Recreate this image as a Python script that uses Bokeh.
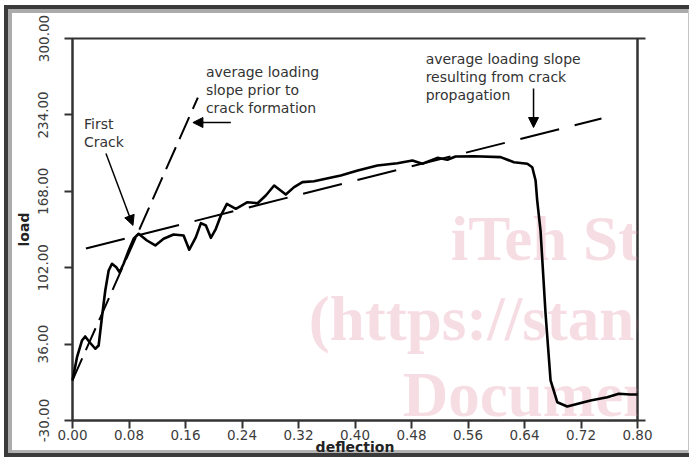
from bokeh.plotting import figure
from bokeh.models import (Label, Arrow, NormalHead, FixedTicker, PrintfTickFormatter,
                          LinearAxis, Range1d)
from bokeh.embed import file_html
from bokeh.resources import INLINE

# ---- data ----
deflection = [0.0, 0.0064, 0.0134, 0.018, 0.0243, 0.0323, 0.037, 0.0417, 0.0464, 0.0512,
              0.0559, 0.062, 0.0667, 0.0724, 0.0795, 0.0866, 0.0936, 0.1054, 0.1172, 0.129,
              0.1431, 0.1573, 0.1653, 0.1747, 0.1818, 0.1889, 0.1959, 0.203, 0.2101, 0.2186,
              0.2313, 0.2478, 0.262, 0.2737, 0.2855, 0.302, 0.3138, 0.3256, 0.342, 0.36,
              0.3799, 0.4039, 0.4317, 0.46, 0.4813, 0.4954, 0.5166, 0.5308, 0.5425, 0.5684,
              0.6062, 0.625, 0.644, 0.651, 0.6557, 0.658, 0.6627, 0.6698, 0.6769, 0.6864,
              0.7005, 0.7335, 0.7571, 0.7735, 0.79, 0.8]
load = [4.6, 24.7, 39.1, 42.6, 37.6, 32.0, 34.8, 59.2, 82.3, 99.6,
        105.4, 102.4, 98.1, 105.4, 116.9, 127.0, 131.3, 125.5, 121.2, 127.0,
        130.7, 129.8, 117.5, 128.4, 140.5, 138.5, 127.8, 135.6, 147.1, 157.2,
        152.9, 158.6, 157.7, 164.4, 173.0, 165.2, 171.6, 175.9, 176.7, 179.0,
        181.7, 186.0, 190.3, 192.3, 194.6, 191.8, 196.9, 195.2, 198.1, 198.3,
        197.5, 193.1, 191.8, 188.8, 177.3, 160.0, 134.1, 62.4, 4.6, -14.2,
        -17.9, -12.7, -9.9, -6.9, -7.5, -7.5]

# average loading slopes (end points)
slope_prior_x = [-0.019, 0.1775]
slope_prior_y = [-21.4, 249.0]
slope_prop_x = [0.019, 0.749]
slope_prop_y = [118.6, 230.9]

x_ticks = [0.0, 0.08, 0.16, 0.24, 0.32, 0.40, 0.48, 0.56, 0.64, 0.72, 0.80]
y_ticks = [-30, 36, 102, 168, 234, 300]

# annotation anchors (data coordinates)
note_first = (0.0163, 233.0, "First\nCrack")
note_prior = (0.1889, 278.4, "average loading\nslope prior to\ncrack formation")
note_prop = (0.50, 289.6, "average loading slope\nresulting from crack\npropagation")
arrow_first = (0.0474, 200.7, 0.0856, 138.5)
arrow_prior = (0.2242, 227.4, 0.1705, 227.4)
arrow_prop = (0.6528, 256.8, 0.6528, 223.1)

# faint watermark of the source scan (visible parts only), top-anchored
watermark = [(0.5354, 156.9, "iTeh Sta"),
             (0.3345, 87.8, "(https://stand"),
             (0.4675, 22.2, "Document")]

INK = "#333333"
FONT = "DejaVu Sans"

p = figure(width=689, height=457, x_range=Range1d(0, 0.8), y_range=Range1d(-30, 300),
           output_backend="svg", toolbar_location=None,
           min_border_left=72, min_border_right=52, min_border_top=38, min_border_bottom=37)
p.grid.visible = False
p.outline_line_color = INK
p.outline_line_width = 2
p.background_fill_color = "white"
p.border_fill_color = None   # let the page frame (below) show through

# the scanned page frame: dark/grey bands drawn as inset shadows behind the canvas
p.styles = {"background-color": "white",
            "box-shadow": ("inset 4px 0 0 0 white, "
                           "inset 0 5px 0 0 white, "
                           "inset 8px 0 0 0 #3a3a3a, "
                           "inset 0 9px 0 0 #3a3a3a, "
                           "inset 0 -4px 0 0 #3a3a3a, "
                           "inset -1px 0 0 0 #c4c4c4, "
                           "inset 12px 0 0 0 #ababab, "
                           "inset 0 13px 0 0 #ababab, "
                           "inset 0 -7px 0 0 #b2b2b2")}

# axes
xa = p.xaxis[0]
xa.ticker = FixedTicker(ticks=x_ticks)
xa.formatter = PrintfTickFormatter(format="%.2f")
ya = p.yaxis[0]
ya.ticker = FixedTicker(ticks=y_ticks)
ya.formatter = PrintfTickFormatter(format="%.2f")
ya.major_label_orientation = "vertical"
for ax in (xa, ya):
    ax.axis_line_color = INK
    ax.axis_line_width = 2
    ax.major_tick_line_color = INK
    ax.major_tick_line_width = 2
    ax.major_tick_in = 0
    ax.major_tick_out = 8
    ax.minor_tick_line_color = None
    ax.major_label_text_font = FONT
    ax.major_label_text_font_size = "13.5px"
    ax.major_label_text_color = "#3c3c3c"
    ax.axis_label_text_font = FONT
    ax.axis_label_text_font_style = "bold"
    ax.axis_label_text_font_size = "14px"
    ax.axis_label_text_color = "#222222"
xa.axis_label = "deflection"
xa.major_label_standoff = 1
xa.axis_label_standoff = -4
ya.axis_label = "load"
ya.major_label_standoff = 16
ya.axis_label_standoff = 4

ra = LinearAxis(ticker=FixedTicker(ticks=[-30, 300]))
ra.major_label_text_alpha = 0
ra.major_label_text_font_size = "1px"
ra.axis_line_color = INK
ra.axis_line_width = 2
ra.major_tick_line_color = INK
ra.major_tick_line_width = 2
ra.major_tick_in = 0
ra.major_tick_out = 8
ra.minor_tick_line_color = None
p.add_layout(ra, "right")

# watermark
for wx, wy, wt in watermark:
    p.add_layout(Label(x=wx, y=wy, text=wt, text_font="Liberation Serif",
                       text_font_style="bold", text_font_size="63px",
                       text_color="#e0859f", text_alpha=0.28,
                       text_baseline="top"))

# slope lines (dashed)
p.add_layout(Arrow(end=None, x_start=slope_prior_x[0], y_start=slope_prior_y[0],
                   x_end=slope_prior_x[1], y_end=slope_prior_y[1],
                   line_color="black", line_width=2, line_dash="24 9"))
p.add_layout(Arrow(end=None, x_start=slope_prop_x[0], y_start=slope_prop_y[0],
                   x_end=slope_prop_x[1], y_end=slope_prop_y[1],
                   line_color="black", line_width=2, line_dash="40 16"))

# the load curve (drawn above the watermark)
p.line(deflection, load, line_color="black", line_width=2.6, line_join="round",
       level="overlay")

# annotations
for nx, ny, nt in (note_first, note_prior, note_prop):
    p.add_layout(Label(x=nx, y=ny, text=nt, text_font=FONT, text_font_size="14px",
                       text_color=INK, text_baseline="top", text_align="left",
                       text_line_height=1.15))
for xs, ys, xe, ye in (arrow_first, arrow_prior, arrow_prop):
    p.add_layout(Arrow(end=NormalHead(size=10, fill_color="black", line_color="black"),
                       x_start=xs, y_start=ys, x_end=xe, y_end=ye,
                       line_color="black", line_width=1.5))

open("out.html", "w").write(file_html(p, INLINE))
